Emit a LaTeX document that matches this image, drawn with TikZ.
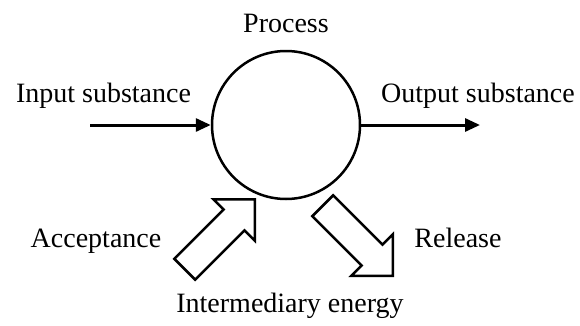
\documentclass[tikz,border=0pt]{standalone}
\usepackage{fontspec}
\setmainfont{Liberation Serif}
\usetikzlibrary{arrows.meta, positioning, shapes.arrows}
\tikzset{
    flowdiagram/.style={x=1pt, y=1pt, font=\fontsize{28}{32}\selectfont},
    process/.style={draw, circle, line width=2.5pt, minimum size=148pt, inner sep=0pt},
    flow/.style={line width=3pt, -{Triangle[length=15pt, width=13pt]}},
    tag/.style={anchor=base, inner sep=0pt},
    % hollow block arrow for the energy that comes in or goes out
    energy/.style={draw, single arrow, line width=2.5pt, minimum height=99pt,
        inner xsep=0pt, inner ysep=13.5pt, single arrow head extend=14.5pt,
        single arrow tip angle=90},
}

\begin{document}
\begin{tikzpicture}[flowdiagram]
    \useasboundingbox (0,0) rectangle (580,325);

    \node[process] (proc) at (286,200) {};
    \node[tag] (proctag) at (286,293) {Process};

    \coordinate (in) at (90,200);
    \coordinate (out) at (480,200);
    \draw[flow] (in) -- (proc);
    \draw[flow] (proc) -- (out);
    \node[tag] (intag) at (103.5,223) {Input substance};
    \node[tag] (outtag) at (478,223) {Output substance};

    \node[energy, rotate=45, anchor=tip] (accept) at (256,127) {};
    \node[energy, rotate=-45, anchor=tip] (release) at (394,48) {};
    \node[tag] (accepttag) at (96,78) {Acceptance};
    \node[tag] (releasetag) at (458,78) {Release};
    \node[tag] (energytag) at (290,13) {Intermediary energy};
\end{tikzpicture}
\end{document}
